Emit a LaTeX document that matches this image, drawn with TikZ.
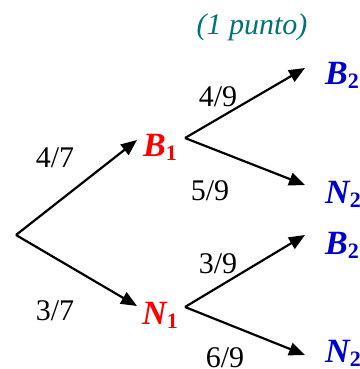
\documentclass[tikz,border=0pt]{standalone}
\usepackage{fontspec}
\setmainfont{Liberation Serif}
\usetikzlibrary{arrows.meta}
\definecolor{puntoteal}{RGB}{0,115,115}
\definecolor{evblue}{RGB}{0,0,204}
\definecolor{evred}{RGB}{255,0,0}
\newcommand{\ev}[2]{\bfseries\itshape #1\raisebox{-4pt}{\fontsize{22}{22}\selectfont\upshape #2}}
\tikzset{
  branch/.style = {-{Triangle[length=16pt,width=13pt]}, line width=2.2pt, black},
  prob/.style   = {font=\fontsize{30}{30}\selectfont, inner sep=0pt},
  first/.style  = {font=\fontsize{34}{34}\selectfont, text=evred, inner sep=0pt, anchor=base west},
  second/.style = {font=\fontsize{34}{34}\selectfont, text=evblue, inner sep=0pt, anchor=base west},
}
\begin{document}
\begin{tikzpicture}[x=1pt, y=-1pt]
\useasboundingbox (0,0) rectangle (359,369);
\node[font=\fontsize{30}{30}\selectfont\itshape, text=puntoteal, inner sep=0pt] (punto) at (252,27) {(1 punto)};
% points of the tree
\coordinate (root) at (16,235);
\coordinate (tb1) at (137,140);
\coordinate (tn1) at (137,306);
\coordinate (ob1) at (185,138);
\coordinate (on1) at (185,307);
\coordinate (tb2a) at (305,68);
\coordinate (tn2a) at (305,185);
\coordinate (tb2b) at (305,235);
\coordinate (tn2b) at (305,355);
% events
\node[first] (b1) at (143,156) {\ev{B}{1}};
\node[first] (n1) at (142,324) {\ev{N}{1}};
\node[second] (b2a) at (325,84) {\ev{B}{2}};
\node[second] (n2a) at (325,203) {\ev{N}{2}};
\node[second] (b2b) at (325,254) {\ev{B}{2}};
\node[second] (n2b) at (325,362) {\ev{N}{2}};
% branches
\draw[branch] (root) -- (tb1);
\draw[branch] (root) -- (tn1);
\draw[branch] (ob1) -- (tb2a);
\draw[branch] (ob1) -- (tn2a);
\draw[branch] (on1) -- (tb2b);
\draw[branch] (on1) -- (tn2b);
% probabilities
\node[prob] (p47) at (55,158) {4/7};
\node[prob] (p37) at (55,311) {3/7};
\node[prob] (p49) at (218,97) {4/9};
\node[prob] (p59) at (210,191) {5/9};
\node[prob] (p39) at (218,264) {3/9};
\node[prob] (p69) at (225,358) {6/9};
\end{tikzpicture}
\end{document}
